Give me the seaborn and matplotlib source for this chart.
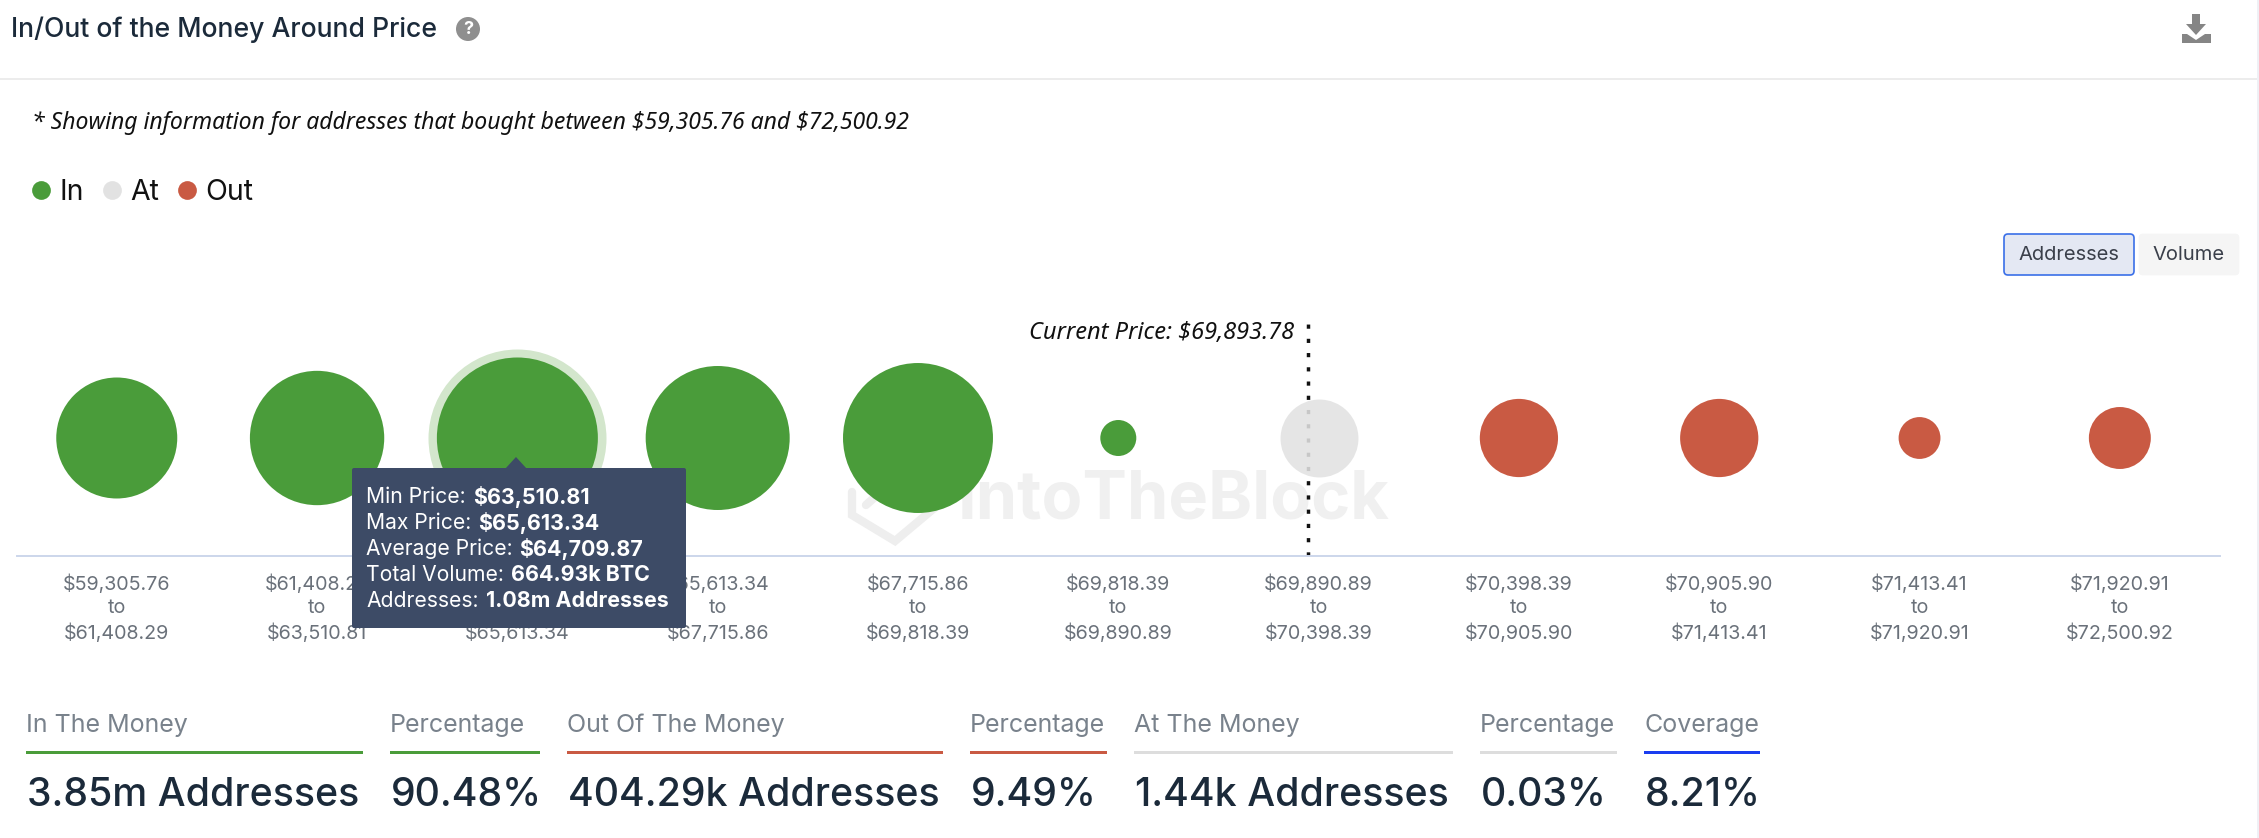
import numpy as np
import pandas as pd
import matplotlib
matplotlib.use("Agg")
import matplotlib.pyplot as plt
from matplotlib.lines import Line2D
from matplotlib.patches import FancyBboxPatch, Polygon, Rectangle, Circle
import seaborn as sns

# ---------- data ----------
price_low = [59305.76, 61408.29, 63510.81, 65613.34, 67715.86, 69818.39,
             69890.89, 70398.39, 70905.90, 71413.41, 71920.91]
price_high = [61408.29, 63510.81, 65613.34, 67715.86, 69818.39, 69890.89,
              70398.39, 70905.90, 71413.41, 71920.91, 72500.92]
states = ["In", "In", "In", "In", "In", "In", "At", "Out", "Out", "Out", "Out"]
# bubble weights (k addresses, area scale)
bubble_k = [610, 752, 1080, 864, 937, 54, 253, 255, 255, 73, 160]
highlight = 2
current_price_text = r"Current Price: \$69,893.78"
current_price_pos = 5.945

tooltip_rows = [("Min Price:", "$63,510.81"), ("Max Price:", "$65,613.34"),
                ("Average Price:", "$64,709.87"), ("Total Volume:", "664.93k BTC"),
                ("Addresses:", "1.08m Addresses")]
stat_labels = ["In The Money", "Percentage", "Out Of The Money", "Percentage",
               "At The Money", "Percentage", "Coverage"]
stat_values = ["3.85m Addresses", "90.48%", "404.29k Addresses", "9.49%",
               "1.44k Addresses", "0.03%", "8.21%"]

GREEN, RED, GREY, BLUE = "#4a9c3a", "#c95a43", "#e2e2e2", "#1a3df0"
palette = {"In": GREEN, "At": GREY, "Out": RED}
stat_colors = [GREEN, GREEN, RED, RED, "#dddddd", "#dddddd", BLUE]
stat_spans = [(26, 363), (390, 540), (567, 943), (970, 1107), (1134, 1453), (1480, 1617), (1644, 1760)]

# ---------- set-up ----------
W, H = 2259, 838
sns.set_theme(style="white")
plt.rcParams["font.family"] = ["Inter", "DejaVu Sans"]
fig = plt.figure(figsize=(W / 100, H / 100), dpi=100, facecolor="white")

def pixel_axes(z):
    a = fig.add_axes([0, 0, 1, 1], zorder=z)
    a.set_xlim(0, W); a.set_ylim(H, 0); a.axis("off")
    a.patch.set_alpha(0)
    return a

bg = pixel_axes(0)
top, base, left, right = 300, 556, 16.6, 2220
ax = fig.add_axes([left / W, 1 - base / H, (right - left) / W, (base - top) / H], zorder=1)
ax.patch.set_alpha(0)
fg = pixel_axes(2)

# ---------- bubbles ----------
df = pd.DataFrame({"pos": np.arange(len(price_low)), "y": 0.0, "state": states, "k": bubble_k})
k_area = (161 * 0.72) ** 2 / 1080
vmin, vmax = min(bubble_k), max(bubble_k)
halo = df.iloc[[highlight]]
sns.scatterplot(data=halo, x="pos", y="y", s=float(halo["k"].iloc[0]) * k_area * (178 / 161) ** 2,
                color="#d3e6cc", linewidth=0, legend=False, ax=ax, zorder=2)
ax.axvline(current_price_pos, ymin=0, ymax=(base - 320) / (base - top), color="#111111",
           lw=2.5, ls=(0, (1.2, 2.9)), zorder=2.5)
for st, alpha in (("In", 1), ("Out", 1), ("At", 0.88)):
    sns.scatterplot(data=df[df.state == st], x="pos", y="y", hue="state", palette=palette,
                    size="k", sizes=(vmin * k_area, vmax * k_area), size_norm=(vmin, vmax),
                    alpha=alpha, linewidth=0, legend=False, ax=ax, zorder=3)
ax.set_xlim(-0.5, 10.5)
ax.set_ylim(-(base - 438), 438 - top)
ax.set_xlabel(""); ax.set_ylabel("")
ax.set_yticks([])
ax.set_xticks(df["pos"])
ax.set_xticklabels([f"${a:,.2f}\nto\n${b:,.2f}" for a, b in zip(price_low, price_high)],
                   fontsize=14.2, color="#6a717a", linespacing=1.39)
ax.tick_params(axis="x", length=0, pad=13)
sns.despine(ax=ax, left=True, top=True, right=True)
ax.spines["bottom"].set_color("#ccd6eb")
ax.spines["bottom"].set_linewidth(1.4)
ax.text(current_price_pos - 0.067, 1 - (333 - top) / (base - top), current_price_text,
        transform=ax.get_xaxis_transform(), ha="right", va="center", style="italic",
        fontsize=17, color="#111111", family=["Noto Sans", "DejaVu Sans"])

# ---------- legend ----------
handles = [Line2D([], [], marker="o", ls="", color=palette[s], markersize=13.5, markeredgewidth=0, label=s)
           for s in ("In", "At", "Out")]
leg = fig.legend(handles=handles, loc="center left", bbox_to_anchor=(21 / W, 1 - 192 / H), ncol=3,
                 frameon=False, fontsize=20.5, handletextpad=-0.05, columnspacing=0.28, handlelength=1.4,
                 labelcolor="#111111", borderpad=0, borderaxespad=0)

# ---------- watermark ----------
bg.text(958, 518, "IntoTheBlock", fontsize=48, fontweight="bold", color="#f0f0f0", va="baseline", ha="left")
bg.add_line(Line2D([852, 852, 895, 932, 893, 866], [492, 515, 541, 510, 481, 505], color="#eeeeee", lw=6, solid_joinstyle="miter"))

# ---------- header ----------
fg.text(11, 30, "In/Out of the Money Around Price", fontsize=19.15, fontweight="medium", color="#1b2a3a", va="center")
fg.add_patch(Circle((468, 29), 12, color="#8f8f8f", lw=0))
fg.text(468, 29.5, "?", fontsize=13, fontweight="bold", color="white", ha="center", va="center")
fg.add_patch(Rectangle((0, 78), 2257, 2, color="#ececec", lw=0))
fg.add_patch(Rectangle((2257, 0), 2, H, color="#eff0f5", lw=0))
fg.add_patch(Polygon([[2192, 14], [2200, 14], [2200, 24], [2206, 24], [2196, 35], [2186, 24], [2192, 24]], color="#858585", lw=0))
fg.add_patch(Polygon([[2182, 34], [2187, 34], [2196, 40], [2205, 34], [2211, 34], [2211, 43], [2182, 43]], color="#858585", lw=0))
fg.text(32, 123, r"* Showing information for addresses that bought between \$59,305.76 and \$72,500.92",
        fontsize=16.55, style="italic", color="#111111", va="center", family=["Noto Sans", "DejaVu Sans"])

# buttons
fg.add_patch(FancyBboxPatch((2008, 238), 122, 33, boxstyle="round,pad=4,rounding_size=4",
                            fc="#e4e8f3", ec="#3a6fe8", lw=1.2))
fg.add_patch(FancyBboxPatch((2143, 238), 92, 33, boxstyle="round,pad=4,rounding_size=4",
                            fc="#f5f5f5", ec="#f5f5f5", lw=0.5))
fg.text(2069, 255, "Addresses", fontsize=14.5, color="#3a3f4a", ha="center", va="center")
fg.text(2189, 255, "Volume", fontsize=14.5, color="#3a3f4a", ha="center", va="center")

# ---------- tooltip ----------
TIP = "#3d4b66"
fg.add_patch(FancyBboxPatch((354, 470), 330, 156, boxstyle="round,pad=2,rounding_size=2", fc=TIP, ec=TIP, lw=0))
fg.add_patch(Polygon([[505, 469], [516, 457], [527, 469]], color=TIP, lw=0))
fig.canvas.draw()
r = fig.canvas.get_renderer()
for (a, b), y in zip(tooltip_rows, [497, 523, 549, 575, 601]):
    t = fg.text(366, y, a, fontsize=15.2, color="white", va="center")
    w = t.get_window_extent(r).width
    fg.text(366 + w + 7, y, b.replace("$", r"\$"), fontsize=15.4, fontweight="bold", color="white", va="center")

# ---------- stats ----------
for lab, val, col, (x0, x1) in zip(stat_labels, stat_values, stat_colors, stat_spans):
    fg.text(x0, 725, lab, fontsize=18, color="#79828c", va="center")
    fg.add_patch(Rectangle((x0, 750.5), x1 - x0, 3, color=col, lw=0))
    fg.text(x0 + 1, 795, val, fontsize=28.3, fontweight="medium", color="#1b2a3a", va="center")

fig.savefig("out.png", dpi=100)
